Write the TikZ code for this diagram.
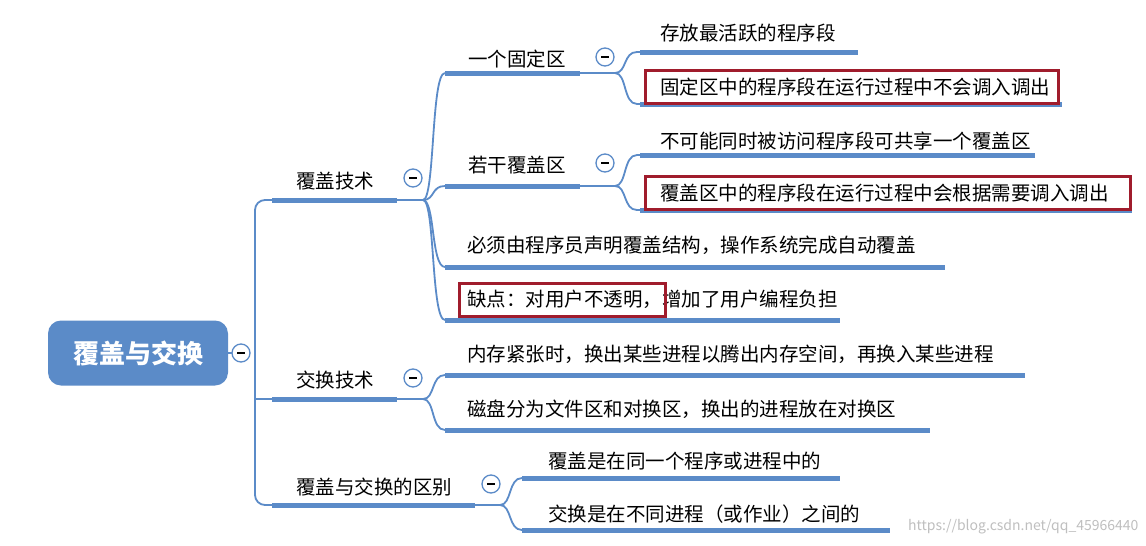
\documentclass[tikz,border=0pt]{standalone}
\usepackage{fontspec}
\setmainfont{Noto Sans CJK SC}
\begin{document}
\begin{tikzpicture}[x=1pt,y=-1pt,
  bl/.style={draw=blu,line width=1.8pt},
  ul/.style={draw=blu,line width=5pt},
  txt/.style={font=\fontsize{19.5}{22}\selectfont,anchor=west,inner sep=0pt},
  tone/.style={font=\fontsize{19.5}{22}\selectfont,inner sep=0pt},
  hl/.style={draw=redb,line width=3pt},
  col/.style={circle,draw=blu,line width=1.3pt,fill=white,minimum size=18pt,inner sep=0pt}]
\definecolor{blu}{HTML}{5B8BC8}
\definecolor{redb}{HTML}{A01C2C}
\useasboundingbox (0,0) rectangle (1146,546);
\fill[white] (0,0) rectangle (1146,546);
\node[rounded corners=13pt,fill=blu,minimum width=180pt,minimum height=65pt,text=white,font=\fontsize{26}{30}\selectfont\bfseries] (root) at (138,353) {覆盖与交换};
\coordinate (t0) at (241,353);
\draw[bl,rounded corners=10pt] (255,353) -- (255,200) -- (272,200);
\draw[bl,rounded corners=10pt] (255,353) -- (255,505) -- (272,505);
\draw[bl] (255,353) |- (272,399);
\draw[bl] (root.east) -- (t0);
\node[col] (c0) at (t0) {\rule{8pt}{1.2pt}};
\coordinate (a1) at (272,200); \coordinate (a2) at (397,200);
\coordinate (b1) at (272,399); \coordinate (b2) at (397,399);
\coordinate (d1) at (272,505); \coordinate (d2) at (475,505);
\draw[ul] (a1) -- (a2); \draw[ul] (b1) -- (b2); \draw[ul] (d1) -- (d2);
\node[tone] (A) at (335,181) {覆盖技术};
\node[tone] (B) at (335,380) {交换技术};
\node[tone] (D) at (374,487) {覆盖与交换的区别};
\draw[bl] (a2) -- (423,200); \draw[bl] (b2) -- (423,399); \draw[bl] (d2) -- (500,505);
\node[col] (cA) at (413,178) {\rule{8pt}{1.2pt}};
\node[col] (cB) at (413,378) {\rule{8pt}{1.2pt}};
\node[col] (cD) at (491,484) {\rule{8pt}{1.2pt}};
\newcommand{\br}[4]{\draw[bl] (#1,#2) .. controls (#1+12,#2) and (#1+8,#3) .. (#1+22,#3) -- (#4,#3);}
\br{423}{200}{73}{445}\br{423}{200}{186}{445}\br{423}{200}{267}{445}\br{423}{200}{320}{445}
\coordinate (e1) at (445,73); \coordinate (e2) at (580,73);
\coordinate (f1) at (445,186); \coordinate (f2) at (580,186);
\coordinate (g1) at (445,267); \coordinate (g2) at (945,267);
\coordinate (h1) at (445,320); \coordinate (h2) at (840,320);
\draw[ul] (e1)--(e2); \draw[ul] (f1)--(f2); \draw[ul] (g1)--(g2); \draw[ul] (h1)--(h2);
\node[tone] (E) at (517,59) {一个固定区};
\node[tone] (F) at (517,165) {若干覆盖区};
\node[txt] (G) at (467,245) {必须由程序员声明覆盖结构，操作系统完成自动覆盖};
\node[txt] (H) at (467,299) {缺点：对用户不透明，增加了用户编程负担};
\draw[hl] (459,283) rectangle (665,316);
\draw[bl] (e2) -- (615,73); \draw[bl] (f2) -- (615,186);
\node[col] (cE) at (605,57) {\rule{8pt}{1.2pt}};
\node[col] (cF) at (605,163) {\rule{8pt}{1.2pt}};
\br{423}{399}{375}{445}\br{423}{399}{430}{445}
\draw[ul] (445,375) -- (1025,375); \draw[ul] (445,430) -- (930,430);
\node[txt] (I) at (467,354) {内存紧张时，换出某些进程以腾出内存空间，再换入某些进程};
\node[txt] (J) at (467,409) {磁盘分为文件区和对换区，换出的进程放在对换区};
\br{500}{505}{478}{522}\br{500}{505}{530}{522}
\draw[ul] (522,478) -- (840,478); \draw[ul] (522,530) -- (890,530);
\node[txt] (K) at (548,461) {覆盖是在同一个程序或进程中的};
\node[txt] (L) at (548,514) {交换是在不同进程（或作业）之间的};
\br{615}{73}{52}{640}\br{615}{73}{104}{640}
\draw[ul] (640,52) -- (858,52); \draw[ul] (640,104) -- (1062,104);
\node[txt] (M) at (660,33) {存放最活跃的程序段};
\node[txt] (N) at (660,87) {固定区中的程序段在运行过程中不会调入调出};
\draw[hl] (645,70) rectangle (1058,103);
\br{615}{186}{155}{640}\br{615}{186}{210}{640}
\draw[ul] (640,155) -- (1035,155); \draw[ul] (640,210) -- (1132,210);
\node[txt] (O) at (660,141) {不可能同时被访问程序段可共享一个覆盖区};
\node[txt] (P) at (660,193) {覆盖区中的程序段在运行过程中会根据需要调入调出};
\draw[hl] (645,176) rectangle (1130,209);
\node[font=\fontsize{14}{16}\selectfont,text=black!25,anchor=east] (W) at (1142,527) {https://blog.csdn.net/qq\_45966440};
\end{tikzpicture}
\end{document}
